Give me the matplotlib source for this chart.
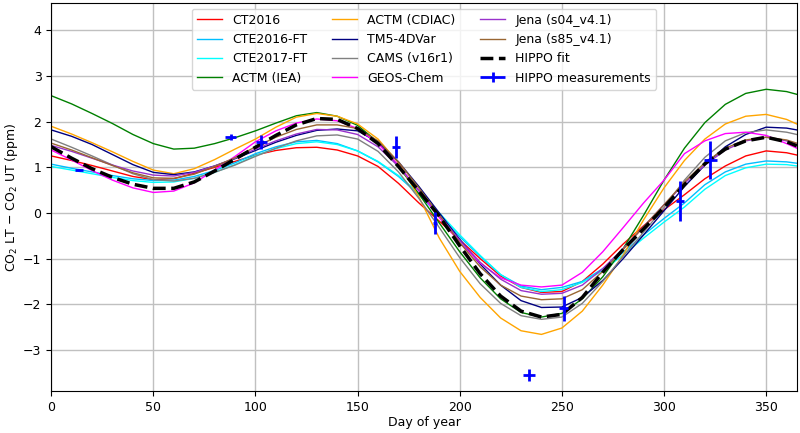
import numpy as np
import matplotlib
matplotlib.use("Agg")
import matplotlib.pyplot as plt
from matplotlib.legend_handler import HandlerErrorbar

days = [0, 10, 20, 30, 40, 50, 60, 70, 80, 90, 100, 110, 120, 130, 140, 150, 160, 170, 180,
        190, 200, 210, 220, 230, 240, 250, 260, 270, 280, 290, 300, 310, 320, 330, 340, 350,
        360, 365]

ct2016 = [1.25, 1.15, 1.04, 0.92, 0.80, 0.73, 0.75, 0.87, 1.00, 1.13, 1.27, 1.37, 1.43, 1.44,
          1.38, 1.25, 1.02, 0.65, 0.22, -0.18, -0.59, -1.00, -1.38, -1.63, -1.74, -1.72, -1.50,
          -1.12, -0.68, -0.28, 0.07, 0.40, 0.75, 1.03, 1.25, 1.36, 1.32, 1.27]
cte2016 = [1.07, 0.98, 0.90, 0.82, 0.75, 0.71, 0.72, 0.80, 0.93, 1.10, 1.30, 1.45, 1.56, 1.59,
           1.52, 1.36, 1.12, 0.80, 0.40, -0.05, -0.52, -0.95, -1.35, -1.60, -1.68, -1.63, -1.50,
           -1.22, -0.86, -0.48, -0.12, 0.22, 0.62, 0.90, 1.07, 1.14, 1.12, 1.09]
cte2017 = [1.02, 0.94, 0.86, 0.78, 0.71, 0.67, 0.68, 0.76, 0.89, 1.06, 1.26, 1.41, 1.52, 1.56,
           1.50, 1.36, 1.13, 0.82, 0.43, 0.00, -0.48, -0.93, -1.35, -1.63, -1.72, -1.68, -1.52,
           -1.26, -0.92, -0.55, -0.20, 0.13, 0.52, 0.82, 0.99, 1.07, 1.06, 1.03]
actm_iea = [2.57, 2.39, 2.18, 1.96, 1.72, 1.52, 1.40, 1.42, 1.52, 1.65, 1.80, 1.97, 2.13, 2.20,
            2.12, 1.92, 1.55, 1.02, 0.42, -0.22, -0.85, -1.42, -1.88, -2.18, -2.28, -2.20, -1.88,
            -1.40, -0.78, -0.05, 0.72, 1.42, 1.98, 2.38, 2.62, 2.71, 2.66, 2.60]
actm_cdiac = [1.90, 1.73, 1.54, 1.34, 1.13, 0.94, 0.86, 0.97, 1.17, 1.40, 1.62, 1.88, 2.10, 2.18,
              2.12, 1.95, 1.62, 1.10, 0.35, -0.55, -1.28, -1.85, -2.30, -2.58, -2.66, -2.52, -2.15,
              -1.58, -0.92, -0.15, 0.55, 1.15, 1.62, 1.95, 2.12, 2.16, 2.05, 1.95]
tm5 = [1.82, 1.68, 1.50, 1.28, 1.06, 0.89, 0.84, 0.90, 1.03, 1.19, 1.37, 1.55, 1.70, 1.81,
       1.84, 1.80, 1.55, 1.12, 0.58, 0.00, -0.58, -1.12, -1.58, -1.92, -2.07, -2.06, -1.85,
       -1.48, -1.00, -0.48, 0.05, 0.58, 1.05, 1.45, 1.72, 1.88, 1.86, 1.82]
cams = [1.62, 1.44, 1.25, 1.05, 0.86, 0.73, 0.70, 0.76, 0.89, 1.05, 1.24, 1.42, 1.58, 1.69,
        1.71, 1.62, 1.35, 0.90, 0.32, -0.32, -0.98, -1.55, -1.98, -2.25, -2.33, -2.28, -1.98,
        -1.50, -0.95, -0.42, 0.12, 0.72, 1.22, 1.58, 1.76, 1.82, 1.77, 1.72]
geos = [1.38, 1.16, 0.93, 0.72, 0.55, 0.45, 0.48, 0.66, 0.94, 1.24, 1.56, 1.80, 1.97, 2.06,
        2.02, 1.85, 1.52, 1.05, 0.48, -0.10, -0.65, -1.10, -1.42, -1.58, -1.62, -1.58, -1.30,
        -0.85, -0.32, 0.22, 0.72, 1.30, 1.58, 1.74, 1.77, 1.70, 1.52, 1.42]
jena_s04 = [1.48, 1.35, 1.20, 1.05, 0.92, 0.83, 0.81, 0.89, 1.03, 1.20, 1.40, 1.58, 1.73, 1.83,
            1.82, 1.72, 1.45, 1.02, 0.50, -0.05, -0.60, -1.08, -1.45, -1.70, -1.78, -1.76, -1.58,
            -1.22, -0.78, -0.30, 0.18, 0.65, 1.05, 1.38, 1.58, 1.66, 1.58, 1.50]
jena_s85 = [1.53, 1.38, 1.21, 1.04, 0.88, 0.77, 0.76, 0.85, 1.02, 1.21, 1.45, 1.66, 1.83, 1.93,
            1.93, 1.85, 1.58, 1.12, 0.55, -0.05, -0.65, -1.18, -1.58, -1.82, -1.90, -1.88, -1.68,
            -1.28, -0.80, -0.30, 0.18, 0.68, 1.10, 1.42, 1.60, 1.66, 1.60, 1.53]
hippo_fit = [1.45, 1.20, 0.97, 0.78, 0.63, 0.54, 0.54, 0.68, 0.92, 1.18, 1.44, 1.70, 1.93, 2.07,
             2.05, 1.85, 1.52, 1.02, 0.48, -0.07, -0.72, -1.33, -1.82, -2.15, -2.28, -2.22, -1.85,
             -1.30, -0.80, -0.35, 0.12, 0.62, 1.08, 1.40, 1.58, 1.66, 1.56, 1.47]

# HIPPO campaign means
hippo_day = [13.8, 87.9, 102.9, 168.9, 188.0, 234.0, 250.8, 308.0, 322.7]
hippo_val = [0.94, 1.66, 1.55, 1.44, -0.21, -3.55, -2.09, 0.27, 1.16]
hippo_xerr = [2.0, 2.6, 2.7, 2.0, 1.0, 3.0, 2.0, 2.0, 3.0]
hippo_yerr = [0.03, 0.07, 0.15, 0.24, 0.24, 0.14, 0.28, 0.44, 0.42]

models = [("CT2016", ct2016, "red"),
          ("CTE2016-FT", cte2016, "deepskyblue"),
          ("CTE2017-FT", cte2017, "cyan"),
          ("ACTM (IEA)", actm_iea, "green"),
          ("ACTM (CDIAC)", actm_cdiac, "orange"),
          ("TM5-4DVar", tm5, "navy"),
          ("CAMS (v16r1)", cams, "gray"),
          ("GEOS-Chem", geos, "magenta"),
          ("Jena (s04_v4.1)", jena_s04, "darkorchid"),
          ("Jena (s85_v4.1)", jena_s85, "#996633")]

fig = plt.figure(figsize=(8, 4.33), dpi=100)
ax = fig.add_axes([0.064, 0.097, 0.932, 0.896])

for name, vals, col in models:
    ax.plot(days, vals, color=col, lw=1.0, label=name)

ax.plot(days, hippo_fit, "--", color="black", lw=2.5, label="HIPPO fit")
eb = ax.errorbar(hippo_day, hippo_val, xerr=hippo_xerr, yerr=hippo_yerr,
                 fmt="none", ecolor="blue", elinewidth=2.0, capsize=0,
                 label="HIPPO measurements")

ax.set_xlim(0, 365)
ax.set_ylim(-3.9, 4.6)
ax.set_xticks(np.arange(0, 351, 50))
ax.set_yticks(np.arange(-3, 5, 1))
ax.grid(True, color="#c0c0c0", lw=1.0)
ax.set_axisbelow(True)
ax.tick_params(labelsize=9)
ax.set_xlabel("Day of year", fontsize=9, labelpad=2)
ax.set_ylabel("CO$_2$ LT $-$ CO$_2$ UT (ppm)", fontsize=9)
ax.yaxis.set_label_coords(-0.042, 0.5)

ax.legend(ncol=3, loc="upper center", bbox_to_anchor=(0.5, 0.985),
          borderaxespad=0, fontsize=9, handlelength=2.0,
          columnspacing=2.0,
          handler_map={eb: HandlerErrorbar(xerr_size=1.0, yerr_size=0.4)})

fig.savefig("out.png", dpi=100)
